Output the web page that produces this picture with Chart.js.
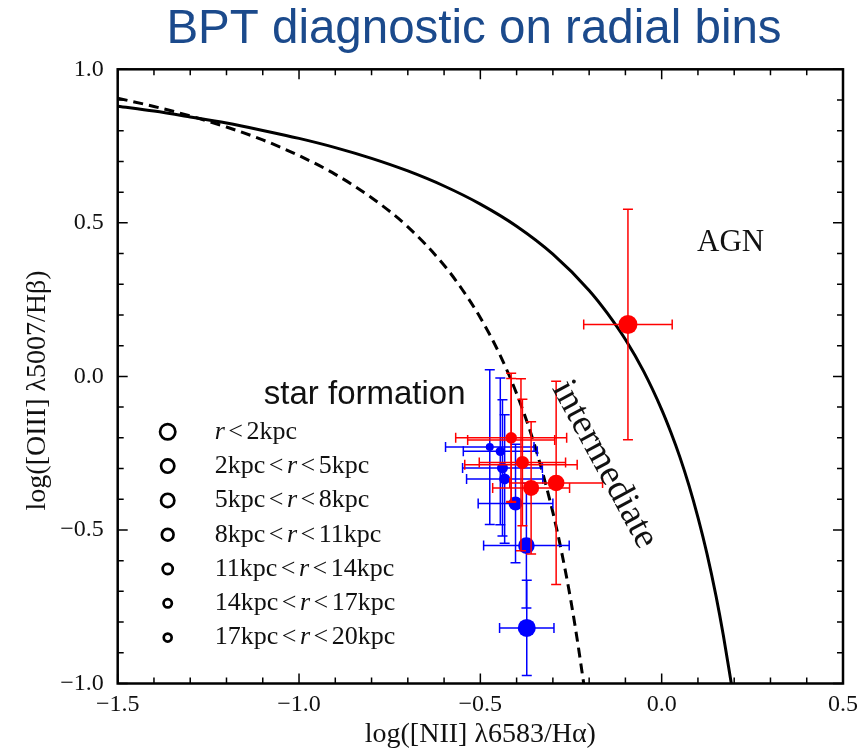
<!DOCTYPE html>
<html>
<head>
<meta charset="utf-8">
<script src="https://cdn.jsdelivr.net/npm/chart.js@4.4.0/dist/chart.umd.min.js"></script>
<style>
html, body { margin: 0; padding: 0; background: #fff; }
#wrap { width: 865px; height: 751px; position: relative; }
</style>
</head>
<body>
<div id="wrap"><canvas id="bptChart"></canvas></div>
<script>
// demarcation curves
const kewleyX = [-1.5, -1.4, -1.3, -1.2, -1.1, -1.0, -0.9, -0.8, -0.7, -0.6, -0.5, -0.4, -0.3, -0.2, -0.15, -0.1, -0.05, 0.0, 0.025, 0.05, 0.075, 0.1, 0.125, 0.15, 0.17, 0.192];
const kewleyY = [0.880, 0.864, 0.845, 0.825, 0.801, 0.775, 0.745, 0.710, 0.669, 0.620, 0.561, 0.489, 0.398, 0.280, 0.206, 0.120, 0.017, -0.108, -0.181, -0.262, -0.354, -0.459, -0.578, -0.716, -0.843, -1.0];
const kauffX = [-1.5, -1.4, -1.3, -1.2, -1.1, -1.0, -0.9, -0.8, -0.7, -0.6, -0.55, -0.5, -0.45, -0.4, -0.35, -0.3, -0.275, -0.25, -0.23, -0.215];
const kauffY = [0.906, 0.879, 0.848, 0.812, 0.770, 0.719, 0.658, 0.582, 0.487, 0.362, 0.283, 0.191, 0.080, -0.056, -0.225, -0.443, -0.577, -0.733, -0.879, -1.0];

// radial bins, blue set
const blueX    = [-0.474, -0.445, -0.439, -0.433, -0.403, -0.373, -0.372];
const blueY    = [-0.230, -0.244, -0.298, -0.334, -0.414, -0.551, -0.819];
const blueXErr = [0.122, 0.102, 0.110, 0.105, 0.103, 0.118, 0.075];
const blueYErr = [0.252, 0.239, 0.222, 0.209, 0.193, 0.203, 0.155];
const blueSize = [4, 4.7, 5.5, 5.5, 7, 8.3, 9];

// radial bins, red set
const redX    = [-0.415, -0.388, -0.415, -0.384, -0.360, -0.291, -0.093];
const redY    = [-0.207, -0.288, -0.200, -0.280, -0.363, -0.347, 0.169];
const redXErr = [0.120, 0.155, 0.153, 0.119, 0.106, 0.128, 0.122];
const redYErr = [0.200, 0.280, 0.210, 0.206, 0.215, 0.331, 0.375];
const redSize = [3, 3, 5.8, 6.5, 8, 8.3, 9.5];

const binLabels = ['r<2kpc', '2kpc<r<5kpc', '5kpc<r<8kpc', '8kpc<r<11kpc', '11kpc<r<14kpc', '14kpc<r<17kpc', '17kpc<r<20kpc'];
const binMarker = [9, 8, 8, 7.2, 6.4, 5.5, 5.3];

const xTicks = [-1.5, -1.0, -0.5, 0.0, 0.5];
const yTicks = [-1.0, -0.5, 0.0, 0.5, 1.0];

const serif = '"Liberation Serif", "Times New Roman", serif';
const sans = '"Liberation Sans", Arial, sans-serif';

function pts(xs, ys) {
    return xs.map((x, i) => ({ x: x, y: ys[i] }));
}

function fmt(v) {
    if (Math.abs(v) < 1e-9) return '0.0';
    return (v < 0 ? '\u2212' : '') + Math.abs(v).toFixed(1);
}

// error bars go under each scatter set's markers
const errorBars = {
    id: 'errorBars',
    beforeDatasetDraw(chart, args) {
        const ds = chart.data.datasets[args.index];
        if (!ds.errX) return;
        const {ctx, chartArea, scales: {x, y}} = chart;
        ctx.save();
        ctx.beginPath();
        ctx.rect(chartArea.left, chartArea.top, chartArea.width, chartArea.height);
        ctx.clip();
        ctx.strokeStyle = ds.backgroundColor;
        ctx.lineWidth = 1.5;
        const cap = 5;
        ds.data.forEach((p, i) => {
            const px = x.getPixelForValue(p.x);
            const py = y.getPixelForValue(p.y);
            const x0 = x.getPixelForValue(p.x - ds.errX[i]);
            const x1 = x.getPixelForValue(p.x + ds.errX[i]);
            const y0 = y.getPixelForValue(p.y - ds.errY[i]);
            const y1 = y.getPixelForValue(p.y + ds.errY[i]);
            ctx.beginPath();
            ctx.moveTo(x0, py); ctx.lineTo(x1, py);
            ctx.moveTo(x0, py - cap); ctx.lineTo(x0, py + cap);
            ctx.moveTo(x1, py - cap); ctx.lineTo(x1, py + cap);
            ctx.moveTo(px, y0); ctx.lineTo(px, y1);
            ctx.moveTo(px - cap, y0); ctx.lineTo(px + cap, y0);
            ctx.moveTo(px - cap, y1); ctx.lineTo(px + cap, y1);
            ctx.stroke();
        });
        ctx.restore();
    }
};

// title, frame, inward ticks on all four sides, labels and the size legend
const decorations = {
    id: 'decorations',
    afterDraw(chart) {
        const {ctx, chartArea: a, scales: {x, y}} = chart;
        ctx.save();

        ctx.fillStyle = '#1b4a8c';
        ctx.textAlign = 'center';
        ctx.textBaseline = 'middle';
        ctx.font = '47.5px ' + sans;
        ctx.fillText('BPT diagnostic on radial bins', 474, 30);

        ctx.strokeStyle = '#000';
        ctx.lineWidth = 2.5;
        ctx.strokeRect(a.left, a.top, a.width, a.height);

        ctx.lineWidth = 1.5;
        ctx.beginPath();
        for (let i = 0; i <= 20; i++) {
            const v = -1.5 + i * 0.1;
            const len = i % 5 === 0 ? 10 : 6;
            const px = x.getPixelForValue(v);
            ctx.moveTo(px, a.bottom); ctx.lineTo(px, a.bottom - len);
            ctx.moveTo(px, a.top); ctx.lineTo(px, a.top + len);
        }
        for (let i = 0; i <= 20; i++) {
            const v = -1.0 + i * 0.1;
            const len = i % 5 === 0 ? 10 : 6;
            const py = y.getPixelForValue(v);
            ctx.moveTo(a.left, py); ctx.lineTo(a.left + len, py);
            ctx.moveTo(a.right, py); ctx.lineTo(a.right - len, py);
        }
        ctx.stroke();

        // region labels
        ctx.fillStyle = '#111';
        ctx.font = '33px ' + sans;
        ctx.fillText('star formation', x.getPixelForValue(-0.819), y.getPixelForValue(-0.059));
        ctx.font = '31px ' + serif;
        ctx.fillText('AGN', x.getPixelForValue(0.19), y.getPixelForValue(0.436));
        ctx.save();
        ctx.translate(x.getPixelForValue(-0.158), y.getPixelForValue(-0.287));
        ctx.rotate(61.5 * Math.PI / 180);
        ctx.font = '37px ' + serif;
        ctx.fillText('intermediate', 0, 0);
        ctx.restore();

        // legend of bin sizes
        ctx.textAlign = 'left';
        ctx.lineWidth = 2.7;
        const rowTop = a.top + 362.5;
        binLabels.forEach((lab, i) => {
            const cy = rowTop + i * 34.3;
            ctx.beginPath();
            ctx.arc(a.left + 50, cy, binMarker[i] - 1.35, 0, 2 * Math.PI);
            ctx.stroke();
            let tx = a.left + 97;
            lab.split(/(r|<)/).forEach(part => {
                if (!part) return;
                const gap = part === '<' ? 3.5 : 0;
                ctx.font = (part === 'r' ? 'italic ' : '') + '26px ' + serif;
                tx += gap;
                ctx.fillText(part, tx, cy);
                tx += ctx.measureText(part).width + gap;
            });
        });
        ctx.restore();
    }
};

const ctx = document.getElementById('bptChart').getContext('2d');

const chart = new Chart(ctx, {
    data: {
        datasets: [
            {
                type: 'line',
                label: 'Kewley',
                data: pts(kewleyX, kewleyY),
                borderColor: '#000',
                borderWidth: 3,
                pointRadius: 0,
                cubicInterpolationMode: 'monotone',
                fill: false,
                order: 3
            },
            {
                type: 'line',
                label: 'Kauffmann',
                data: pts(kauffX, kauffY),
                borderColor: '#000',
                borderWidth: 3,
                borderDash: [10, 6],
                pointRadius: 0,
                cubicInterpolationMode: 'monotone',
                fill: false,
                order: 3
            },
            {
                type: 'scatter',
                label: 'blue bins',
                data: pts(blueX, blueY),
                errX: blueXErr,
                errY: blueYErr,
                backgroundColor: '#0000ff',
                borderWidth: 0,
                pointRadius: blueSize,
                order: 2
            },
            {
                type: 'scatter',
                label: 'red bins',
                data: pts(redX, redY),
                errX: redXErr,
                errY: redYErr,
                backgroundColor: '#ff0000',
                borderWidth: 0,
                pointRadius: redSize,
                order: 1
            }
        ]
    },
    options: {
        responsive: true,
        maintainAspectRatio: false,
        animation: false,
        layout: {
            padding: { left: 0, right: 20.3, top: 69.3, bottom: 0 }
        },
        plugins: {
            legend: { display: false },
            tooltip: { enabled: false },
            title: { display: false }
        },
        scales: {
            x: {
                type: 'linear',
                min: -1.5,
                max: 0.5,
                afterFit: s => { s.height = 67.5; },
                afterBuildTicks: s => { s.ticks = xTicks.map(v => ({ value: v })); },
                grid: { display: false, drawTicks: false },
                border: { display: false },
                ticks: {
                    padding: 7,
                    color: '#111',
                    font: { family: serif, size: 24 },
                    callback: v => fmt(v)
                },
                title: {
                    display: true,
                    text: 'log([NII] \u03bb6583/H\u03b1)',
                    color: '#111',
                    font: { family: serif, size: 28 },
                    padding: { top: 0, bottom: 0 }
                }
            },
            y: {
                type: 'linear',
                min: -1.0,
                max: 1.0,
                afterFit: s => { s.width = 117.7; },
                afterBuildTicks: s => { s.ticks = yTicks.map(v => ({ value: v })); },
                grid: { display: false, drawTicks: false },
                border: { display: false },
                ticks: {
                    padding: 14,
                    color: '#111',
                    font: { family: serif, size: 24 },
                    callback: v => fmt(v)
                },
                title: {
                    display: true,
                    text: 'log([OIII] \u03bb5007/H\u03b2)    ',
                    color: '#111',
                    font: { family: serif, size: 28 },
                    padding: { top: 21, bottom: 0 }
                }
            }
        }
    },
    plugins: [errorBars, decorations]
});
</script>
</body>
</html>
